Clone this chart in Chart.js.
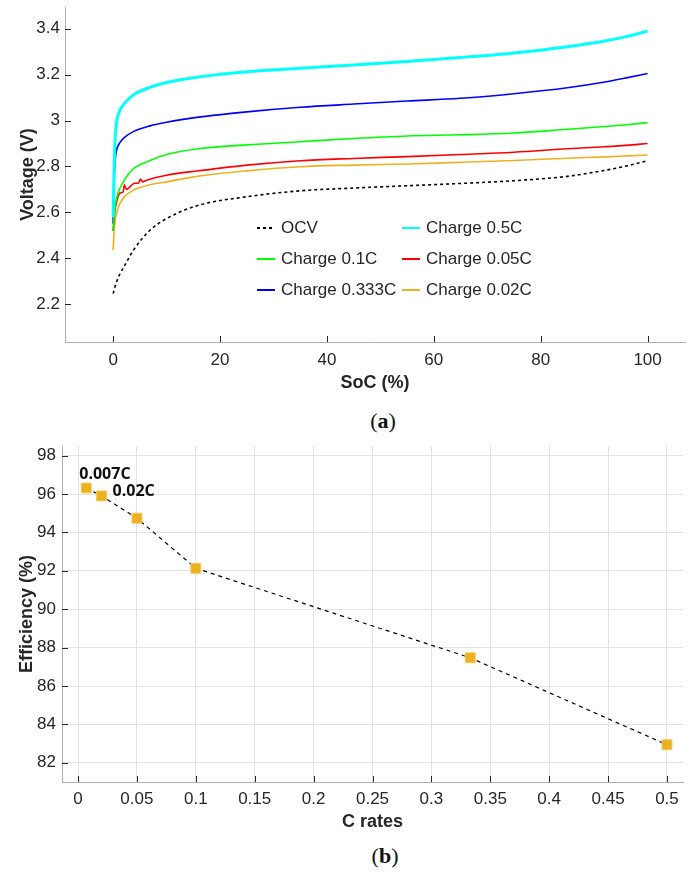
<!DOCTYPE html>
<html>
<head>
<meta charset="utf-8">
<script src="https://cdn.jsdelivr.net/npm/chart.js@4/dist/chart.umd.min.js"></script>
<style>
  html, body { margin: 0; padding: 0; background: #fff; }
  #page { position: relative; width: 700px; height: 872px; }
  canvas { position: absolute; left: 0; }
  #chartA { top: 0; }
  #chartB { top: 430px; }
  .cap { position: absolute; width: 60px; text-align: center; font-family: 'Liberation Serif', 'DejaVu Serif', serif; font-size: 22px; color: #111; }
</style>
</head>
<body>
<div id="page">
  <canvas id="chartA" width="700" height="400"></canvas>
  <div class="cap" style="left:353px; top:408px;">(<b>a</b>)</div>
  <canvas id="chartB" width="700" height="410"></canvas>
  <div class="cap" style="left:355px; top:843px;">(<b>b</b>)</div>
</div>
<script>
  // SoC grid (%) shared by most of the curves
  const soc = [0, 0.2, 0.4, 0.7, 1.3, 2.2, 3.8, 6.9, 10, 16, 25, 35, 45, 55, 65, 75, 85, 92, 96, 100];
  const ocv        = [2.246, 2.262, 2.28, 2.30, 2.333, 2.37, 2.435, 2.522, 2.573, 2.631, 2.668, 2.694, 2.706, 2.716, 2.726, 2.738, 2.757, 2.783, 2.802, 2.825];
  const charge05   = [2.58, 2.80, 2.93, 3.00, 3.046, 3.077, 3.112, 3.145, 3.166, 3.19, 3.213, 3.228, 3.242, 3.258, 3.275, 3.295, 3.322, 3.347, 3.366, 3.39];
  const charge0333 = [2.55, 2.74, 2.83, 2.875, 2.905, 2.928, 2.952, 2.977, 2.993, 3.015, 3.038, 3.058, 3.072, 3.085, 3.097, 3.117, 3.143, 3.168, 3.186, 3.205];
  const charge01   = [2.52, 2.58, 2.63, 2.668, 2.706, 2.745, 2.79, 2.826, 2.852, 2.877, 2.894, 2.908, 2.922, 2.933, 2.938, 2.946, 2.962, 2.974, 2.982, 2.991];
  const charge002  = [2.435, 2.52, 2.566, 2.60, 2.64, 2.67, 2.697, 2.72, 2.733, 2.758, 2.781, 2.799, 2.806, 2.811, 2.818, 2.826, 2.836, 2.842, 2.846, 2.85];
  // the 0.05C curve is noisy at the start, so it has its own grid
  const socRed     = [0, 0.3, 0.7, 1.3, 1.9, 2.1, 2.5, 4, 4.8, 5.1, 5.5, 6, 10, 16, 25, 35, 45, 55, 65, 75, 85, 92, 96, 100];
  const charge005  = [2.52, 2.60, 2.65, 2.684, 2.69, 2.72, 2.70, 2.727, 2.728, 2.745, 2.733, 2.738, 2.762, 2.781, 2.806, 2.825, 2.835, 2.843, 2.852, 2.862, 2.877, 2.886, 2.892, 2.90];

  // efficiency vs C rate
  const cRates      = [0.007, 0.02, 0.05, 0.1, 0.333, 0.5];
  const efficiency  = [96.31, 95.9, 94.74, 92.13, 87.47, 82.94];
  const pointLabels = ['0.007C', '0.02C', '', '', '', ''];

  const INK = '#262626';
  Chart.defaults.font.family = "'Liberation Sans', Arial, sans-serif";
  Chart.defaults.color = INK;

  const toXY = (xs, ys) => xs.map((x, i) => ({ x: x, y: ys[i] }));
  const fmt = v => String(parseFloat(v.toFixed(3)));

  // MATLAB style ticks, pointing into the plot
  const innerTicks = {
    id: 'innerTicks',
    afterDraw(chart) {
      const ctx = chart.ctx;
      const xs = chart.scales.x, ys = chart.scales.y;
      ctx.save();
      ctx.strokeStyle = INK;
      ctx.lineWidth = 1;
      ctx.beginPath();
      xs.ticks.forEach(t => {
        const px = Math.round(xs.getPixelForValue(t.value)) + 0.5;
        ctx.moveTo(px, xs.top);
        ctx.lineTo(px, xs.top - 6);
      });
      ys.ticks.forEach(t => {
        const py = Math.round(ys.getPixelForValue(t.value)) + 0.5;
        ctx.moveTo(ys.right, py);
        ctx.lineTo(ys.right + 6, py);
      });
      ctx.stroke();
      ctx.restore();
    }
  };

  // legend inside the plot, 2 columns, row by row
  const insideLegend = {
    id: 'insideLegend',
    afterDraw(chart) {
      const ctx = chart.ctx;
      const area = chart.chartArea;
      const x0 = area.left + 192, y0 = area.top + 221;
      ctx.save();
      ctx.font = "17px 'Liberation Sans', Arial, sans-serif";
      ctx.textBaseline = 'middle';
      ctx.fillStyle = INK;
      chart.data.datasets.forEach((ds, i) => {
        const x = x0 + (i % 2) * 145;
        const y = y0 + Math.floor(i / 2) * 31;
        ctx.beginPath();
        ctx.strokeStyle = ds.borderColor;
        ctx.lineWidth = 2;
        ctx.setLineDash(ds.borderDash || []);
        ctx.moveTo(x, y);
        ctx.lineTo(x + 18, y);
        ctx.stroke();
        ctx.setLineDash([]);
        ctx.fillText(ds.label, x + 24, y);
      });
      ctx.restore();
    }
  };

  // text next to the first points of the efficiency curve
  const pointText = {
    id: 'pointText',
    afterDatasetsDraw(chart) {
      const ctx = chart.ctx;
      const pts = chart.getDatasetMeta(0).data;
      const offs = [[-7, -14], [11, -4]];
      ctx.save();
      ctx.font = "bold 16px 'Open Sans', Arial, sans-serif";
      ctx.fillStyle = '#111';
      ctx.textBaseline = 'middle';
      pointLabels.forEach((txt, i) => {
        if (!txt) return;
        const o = offs[i] || [8, -8];
        ctx.fillText(txt, pts[i].x + o[0], pts[i].y + o[1]);
      });
      ctx.restore();
    }
  };

  // fixed axis boxes so the plot area lands where the figure has it
  const fixY = w => s => { s.width = w; s.paddingTop = 0; s.paddingBottom = 0; };
  const fixX = h => s => { s.height = h; s.paddingLeft = 0; s.paddingRight = 0; };

  function lineSet(label, xs, ys, color, width, dash) {
    return {
      label: label,
      data: toXY(xs, ys),
      borderColor: color,
      backgroundColor: color,
      borderWidth: width,
      borderDash: dash || [],
      pointRadius: 0,
      fill: false,
      cubicInterpolationMode: 'monotone'
    };
  }

  // (a) voltage vs SoC
  new Chart(document.getElementById('chartA'), {
    type: 'line',
    data: {
      datasets: [
        lineSet('OCV', soc, ocv, '#000000', 1.6, [3, 3]),
        lineSet('Charge 0.5C', soc, charge05, '#00ffff', 3),
        lineSet('Charge 0.1C', soc, charge01, '#00ff00', 1.6),
        lineSet('Charge 0.05C', socRed, charge005, '#ff0000', 1.6),
        lineSet('Charge 0.333C', soc, charge0333, '#0000ff', 1.6),
        lineSet('Charge 0.02C', soc, charge002, '#edb120', 1.6)
      ]
    },
    options: {
      responsive: false,
      animation: false,
      layout: { padding: { top: 7, right: 15, left: 0, bottom: 0 } },
      plugins: { legend: { display: false }, tooltip: { enabled: false } },
      scales: {
        x: {
          type: 'linear',
          min: -9, max: 107,
          afterFit: fixX(58),
          grid: { drawOnChartArea: false, drawTicks: false },
          border: { color: '#b0b0b0', width: 1 },
          ticks: { stepSize: 20, includeBounds: false, padding: 8, font: { size: 17 }, callback: fmt },
          title: { display: true, text: 'SoC (%)', font: { size: 18, weight: 'bold' }, padding: { top: 0, bottom: 6 } }
        },
        y: {
          min: 2.035, max: 3.495,
          afterFit: fixY(65),
          grid: { drawOnChartArea: false, drawTicks: false },
          border: { color: '#b0b0b0', width: 1 },
          ticks: { stepSize: 0.2, includeBounds: false, padding: 5, font: { size: 17 }, callback: fmt },
          title: { display: true, text: 'Voltage (V)', font: { size: 18, weight: 'bold' }, padding: { top: 17, bottom: 0 } }
        }
      }
    },
    plugins: [innerTicks, insideLegend]
  });

  // (b) efficiency vs C rate
  new Chart(document.getElementById('chartB'), {
    type: 'line',
    data: {
      datasets: [{
        label: 'Efficiency',
        data: toXY(cRates, efficiency),
        borderColor: '#000000',
        borderWidth: 1.2,
        borderDash: [4, 4],
        pointStyle: 'rect',
        pointRadius: 7,
        pointBackgroundColor: '#edb120',
        pointBorderColor: '#f2c85a',
        pointBorderWidth: 1,
        fill: false,
        tension: 0
      }]
    },
    options: {
      responsive: false,
      animation: false,
      layout: { padding: { top: 16, right: 17, left: 0, bottom: 0 } },
      plugins: { legend: { display: false }, tooltip: { enabled: false } },
      scales: {
        x: {
          type: 'linear',
          min: -0.0136, max: 0.5136,
          afterFit: fixX(58),
          grid: { color: '#e3e3e3', drawTicks: false },
          border: { color: '#b0b0b0', width: 1 },
          ticks: { stepSize: 0.05, includeBounds: false, padding: 7, font: { size: 17 }, callback: fmt },
          title: { display: true, text: 'C rates', font: { size: 18, weight: 'bold' }, padding: { top: 0, bottom: 7 } }
        },
        y: {
          min: 81, max: 98.5,
          afterFit: fixY(62),
          grid: { color: '#e3e3e3', drawTicks: false },
          border: { color: '#b0b0b0', width: 1 },
          ticks: { stepSize: 2, includeBounds: false, padding: 6, font: { size: 17 }, callback: fmt },
          title: { display: true, text: 'Efficiency (%)', font: { size: 18, weight: 'bold' }, padding: { top: 16, bottom: 0 } }
        }
      }
    },
    plugins: [innerTicks, pointText]
  });
</script>
</body>
</html>
